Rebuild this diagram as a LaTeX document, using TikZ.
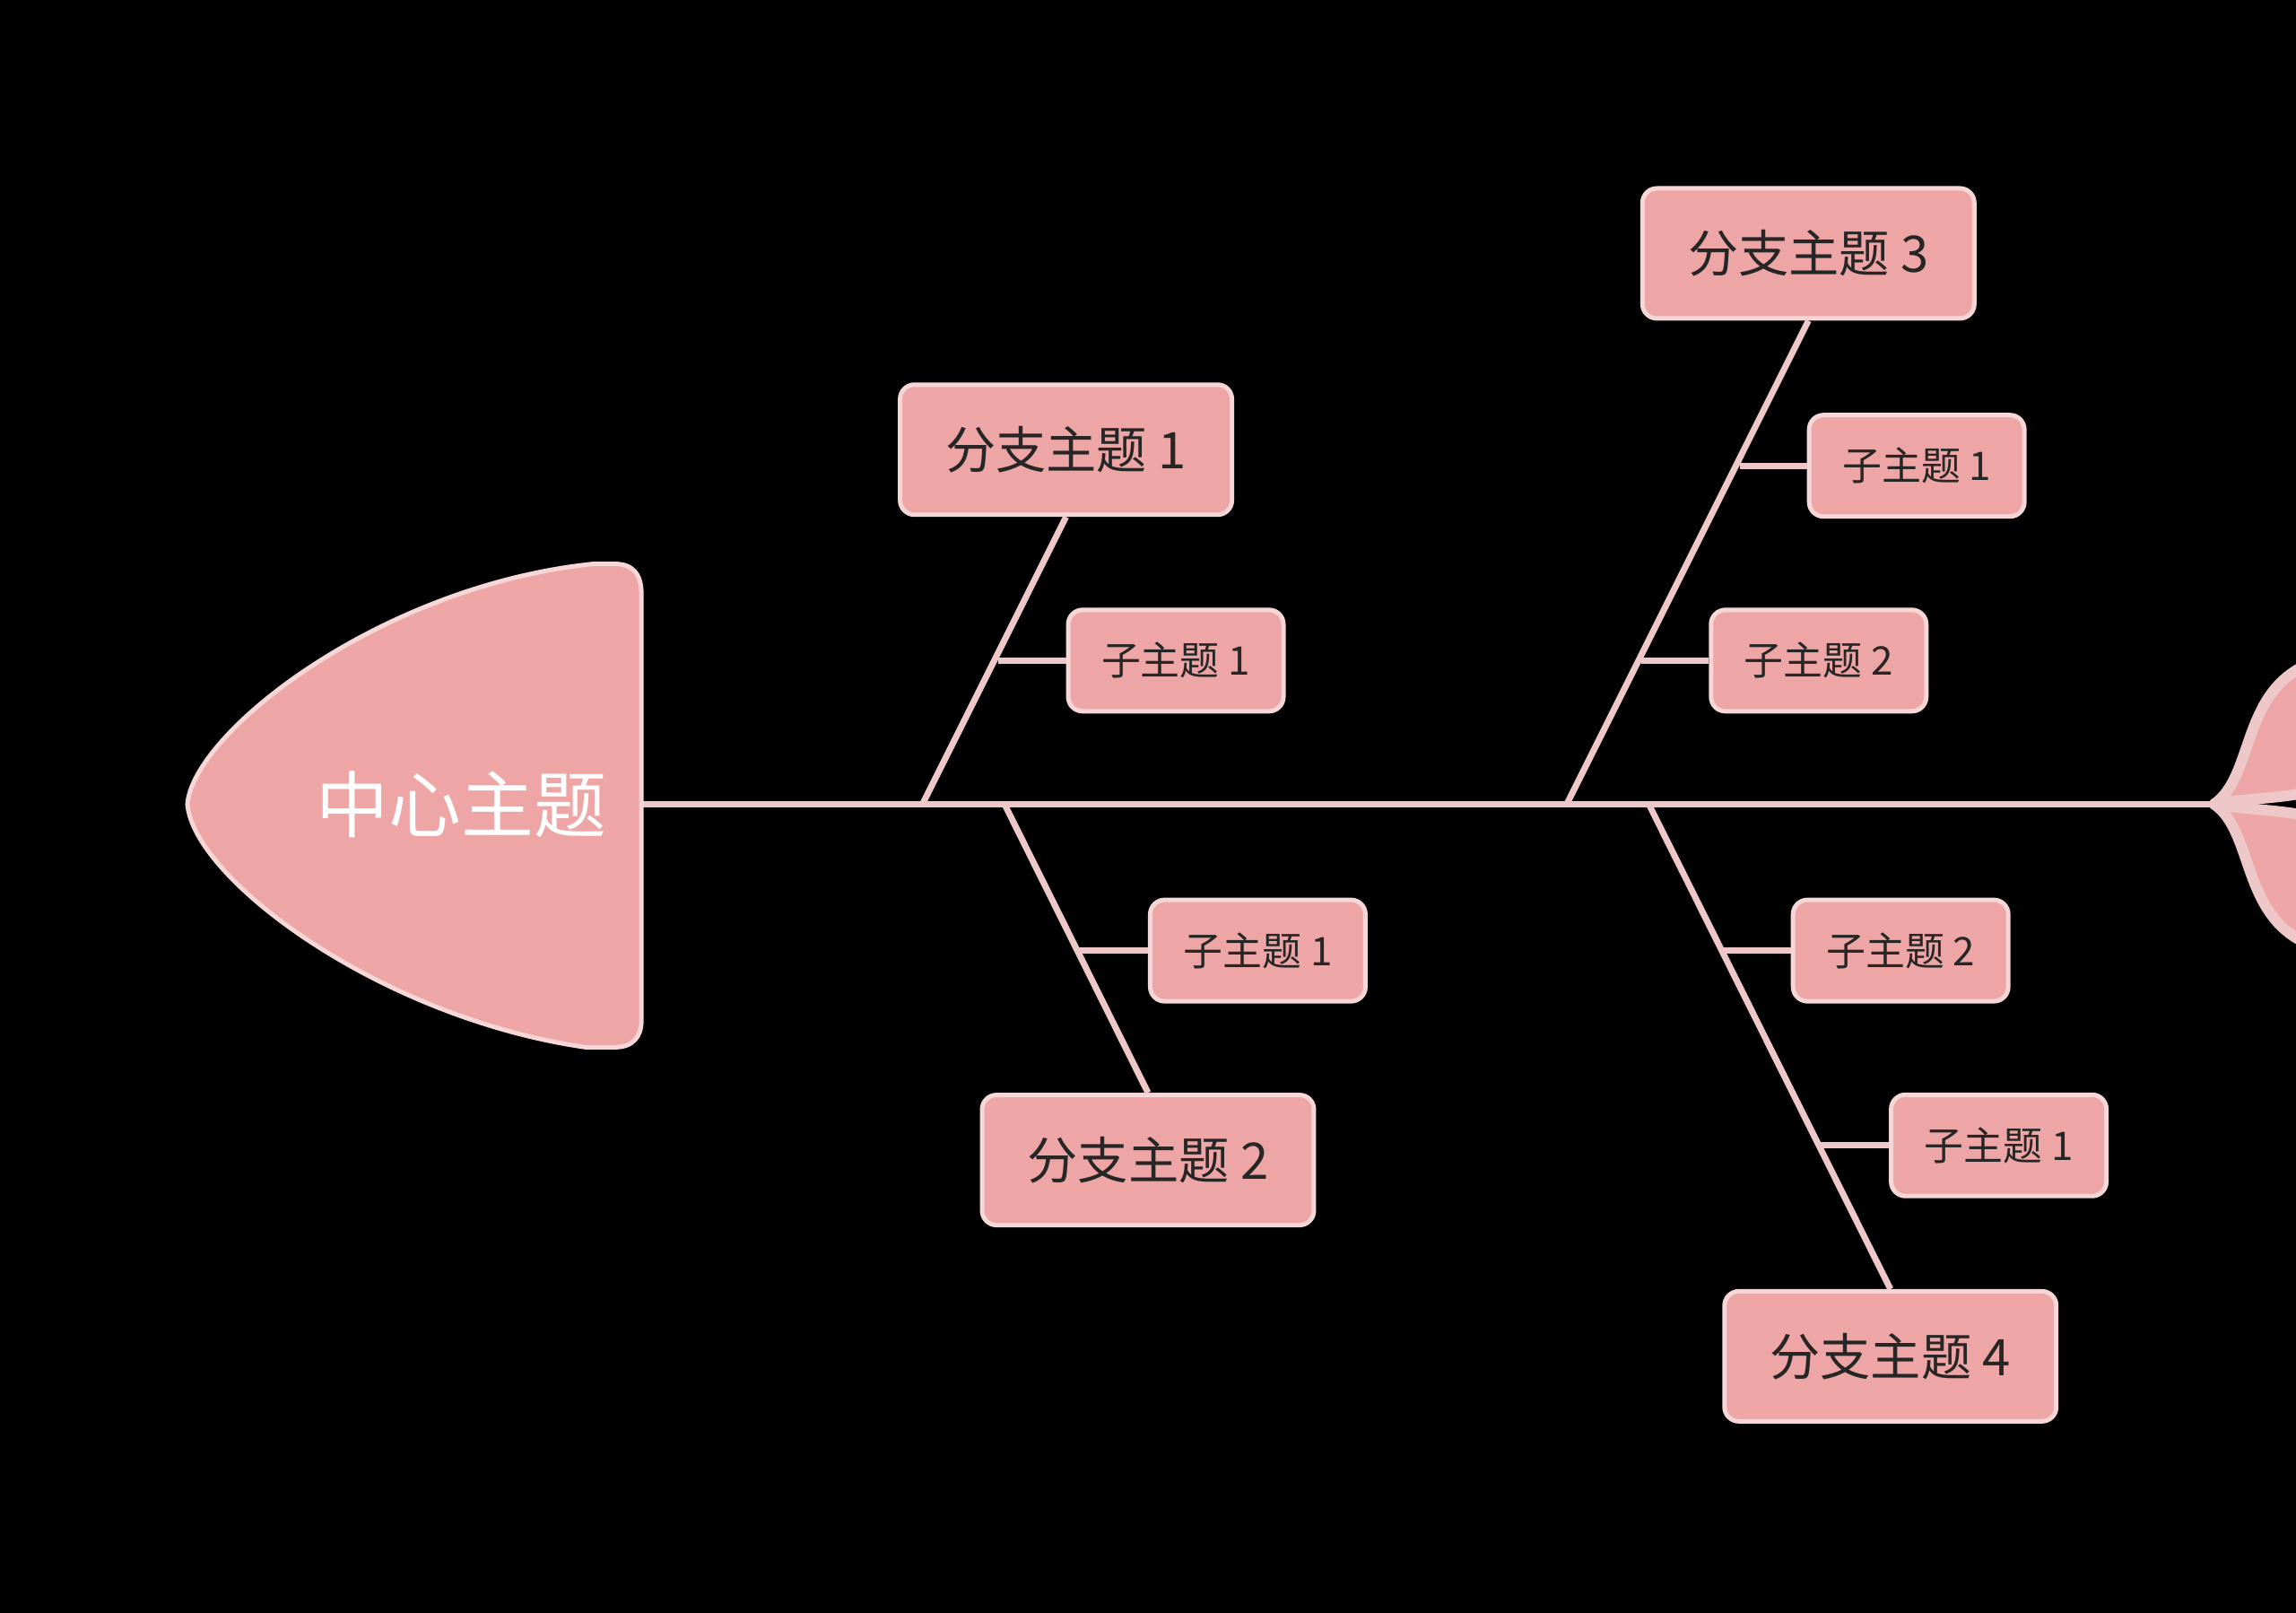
\documentclass[tikz,border=0pt]{standalone}
\usepackage{fontspec}
\setmainfont{Noto Sans CJK SC}
\usetikzlibrary{positioning}
\definecolor{fishpink}{HTML}{EDA5A5}
\definecolor{fishedge}{HTML}{F6D6D6}
\definecolor{bone}{HTML}{EEC8C8}
\tikzset{
  branchbox/.style={draw=fishedge, fill=fishpink, line width=0.5mm, rounded corners=1.6mm,
    minimum width=37mm, minimum height=14.5mm, font=\fontsize{16}{18}\selectfont, text=black!85},
  subbox/.style={draw=fishedge, fill=fishpink, line width=0.5mm, rounded corners=1.6mm,
    minimum width=24mm, minimum height=11.3mm, font=\fontsize{12.5}{14}\selectfont, text=black!85},
  boneline/.style={draw=bone, line width=0.7mm},
  lobe/.style={fill=fishpink, draw=bone, line width=1.2mm, line join=round}
}
\begin{document}
\begin{tikzpicture}[x=0.1633mm, y=-0.1633mm]
\fill[black] (0,0) rectangle (1568,1101);
\useasboundingbox (0,0) rectangle (1568,1101);

% spine and tail
\coordinate (head) at (438,549);
\coordinate (tail) at (1512,549);
\draw[boneline] (head) -- (tail);
\filldraw[lobe] (tail) .. controls (1540,530) and (1530,470) .. (1580,452)
  -- (1580,540) .. controls (1560,545) and (1535,545) .. cycle;
\filldraw[lobe] (tail) .. controls (1540,568) and (1530,628) .. (1580,646)
  -- (1580,558) .. controls (1560,553) and (1535,553) .. cycle;

% head
\filldraw[fill=fishpink, draw=fishedge, line width=0.5mm] (405,385) -- (420,385) .. controls (432,385) and (438,392) .. (438,405)
  -- (438,697) .. controls (438,708) and (432,715) .. (420,715) -- (400,715)
  .. controls (260,695) and (132,600) .. (128,549) .. controls (132,500) and (260,400) .. (405,385);
\node[text=white, font=\fontsize{23}{26}\selectfont] (center) at (315,549) {中心主题};

% branches
\node[branchbox] (b1) at (728,307) {分支主题 1};
\node[branchbox] (b2) at (784,792) {分支主题 2};
\node[branchbox] (b3) at (1235,173) {分支主题 3};
\node[branchbox] (b4) at (1291,926) {分支主题 4};
\coordinate (r1) at (630,549);
\coordinate (r2) at (686,549);
\coordinate (r3) at (1070,549);
\coordinate (r4) at (1126,549);
\draw[boneline] (b1.south) -- (r1);
\draw[boneline] (b2.north) -- (r2);
\draw[boneline] (b3.south) -- (r3);
\draw[boneline] (b4.north) -- (r4);

% sub topics
\node[subbox] (s11) at (803,451) {子主题 1};
\node[subbox] (s21) at (859,649) {子主题 1};
\node[subbox] (s31) at (1309,318) {子主题 1};
\node[subbox] (s32) at (1242,451) {子主题 2};
\node[subbox] (s42) at (1298,649) {子主题 2};
\node[subbox] (s41) at (1365,782) {子主题 1};
\coordinate (j11) at (682,451);
\coordinate (j21) at (737,649);
\coordinate (j31) at (1188,318);
\coordinate (j32) at (1121,451);
\coordinate (j42) at (1176,649);
\coordinate (j41) at (1243,782);
\foreach \j/\s in {j11/s11, j21/s21, j31/s31, j32/s32, j42/s42, j41/s41}
  \draw[boneline] (\j) -- (\s.west);
\end{tikzpicture}
\end{document}
